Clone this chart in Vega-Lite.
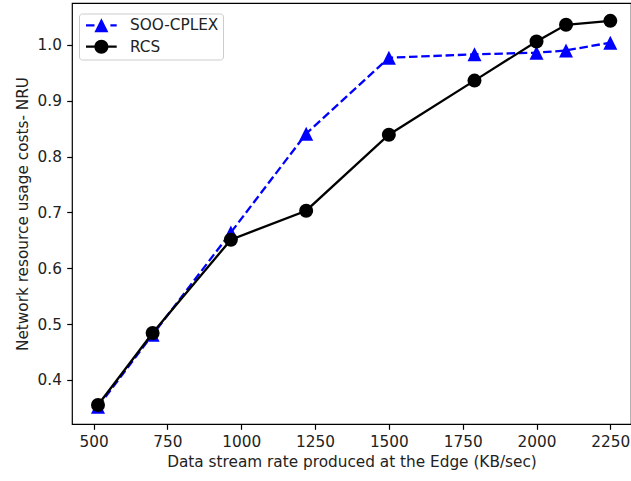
{
  "$schema": "https://vega.github.io/schema/vega-lite/v6.json",
  "autosize": {"type": "none"},
  "width": 559,
  "height": 421,
  "padding": {"left": 72, "top": 3, "right": 0, "bottom": 57},
  "background": "white",
  "config": {
    "view": {"stroke": "#000000", "strokeWidth": 1.2},
    "axis": {
      "grid": false,
      "domain": false,
      "tickColor": "#000000",
      "tickSize": 5.3,
      "tickWidth": 1.2,
      "labelFont": "DejaVu Sans",
      "labelFontSize": 15.3,
      "labelColor": "#222222",
      "labelPadding": 5.3,
      "titleFont": "DejaVu Sans",
      "titleFontSize": 15.3,
      "titleFontWeight": "normal",
      "titleColor": "#222222"
    }
  },
  "data": {
    "values": [
      {"series": "SOO-CPLEX", "rate": 515, "nru": 0.352},
      {"series": "SOO-CPLEX", "rate": 700, "nru": 0.481},
      {"series": "SOO-CPLEX", "rate": 965, "nru": 0.664},
      {"series": "SOO-CPLEX", "rate": 1220, "nru": 0.841},
      {"series": "SOO-CPLEX", "rate": 1500, "nru": 0.977},
      {"series": "SOO-CPLEX", "rate": 1790, "nru": 0.983},
      {"series": "SOO-CPLEX", "rate": 2000, "nru": 0.986},
      {"series": "SOO-CPLEX", "rate": 2100, "nru": 0.990},
      {"series": "SOO-CPLEX", "rate": 2250, "nru": 1.004},
      {"series": "RCS", "rate": 515, "nru": 0.355},
      {"series": "RCS", "rate": 700, "nru": 0.484},
      {"series": "RCS", "rate": 965, "nru": 0.651},
      {"series": "RCS", "rate": 1220, "nru": 0.703},
      {"series": "RCS", "rate": 1500, "nru": 0.839},
      {"series": "RCS", "rate": 1790, "nru": 0.936},
      {"series": "RCS", "rate": 2000, "nru": 1.006},
      {"series": "RCS", "rate": 2100, "nru": 1.036},
      {"series": "RCS", "rate": 2250, "nru": 1.043}
    ]
  },
  "encoding": {
    "x": {
      "field": "rate",
      "type": "quantitative",
      "scale": {"domain": [427, 2320], "nice": false, "zero": false},
      "axis": {"values": [500, 750, 1000, 1250, 1500, 1750, 2000, 2250], "format": "d", "title": "Data stream rate produced at the Edge (KB/sec)", "titlePadding": 5}
    },
    "y": {
      "field": "nru",
      "type": "quantitative",
      "scale": {"domain": [0.321, 1.075], "nice": false, "zero": false},
      "axis": {"values": [0.4, 0.5, 0.6, 0.7, 0.8, 0.9, 1.0], "format": ".1f", "title": "Network resource usage costs- NRU", "titlePadding": 7}
    },
    "color": {
      "field": "series",
      "type": "nominal",
      "scale": {"domain": ["SOO-CPLEX", "RCS"], "range": ["#0000ff", "#000000"]},
      "legend": {
        "title": null,
        "orient": "none",
        "legendX": 7,
        "legendY": 10.5,
        "padding": 3.8,
        "fillColor": "white",
        "strokeColor": "#cccccc",
        "cornerRadius": 3,
        "symbolSize": 400,
        "rowPadding": 4.4,
        "labelOffset": 27.2,
        "labelFont": "DejaVu Sans",
        "labelFontSize": 15.3,
        "labelColor": "#222222",
        "labelExpr": "datum.label + '\u00a0'",
        "encode": {
          "labels": {"update": {"dy": {"value": -2}}},
          "symbols": {
            "update": {
              "shape": {"signal": "datum.value === 'RCS' ? 'M-0.68,-0.315H2.39V-0.085H-0.68Z M0.16,-0.2A0.7,0.7 0 1,1 1.56,-0.2A0.7,0.7 0 1,1 0.16,-0.2Z' : 'M-0.68,-0.315H0.17V-0.085H-0.68Z M1.76,-0.315H2.39V-0.085H1.76Z M0.86,-0.9L1.56,0.5L0.16,0.5Z'"},
              "fill": {"signal": "datum.value === 'RCS' ? '#000000' : '#0000ff'"},
              "strokeWidth": {"value": 0},
              "opacity": {"value": 1},
              "fillOpacity": {"value": 1}
            }
          }
        }
      }
    }
  },
  "layer": [
    {
      "transform": [{"filter": "datum.series === 'SOO-CPLEX'"}],
      "mark": {"type": "line", "strokeWidth": 2.3, "strokeDash": [8.5, 3.7]}
    },
    {
      "transform": [{"filter": "datum.series === 'SOO-CPLEX'"}],
      "mark": {"type": "point", "shape": "M0,-1L1,1L-1,1Z", "size": 196, "filled": true, "opacity": 1, "strokeWidth": 0}
    },
    {
      "transform": [{"filter": "datum.series === 'RCS'"}],
      "mark": {"type": "line", "strokeWidth": 2.3}
    },
    {
      "transform": [{"filter": "datum.series === 'RCS'"}],
      "mark": {"type": "point", "shape": "circle", "size": 196, "filled": true, "opacity": 1, "strokeWidth": 0}
    }
  ]
}
